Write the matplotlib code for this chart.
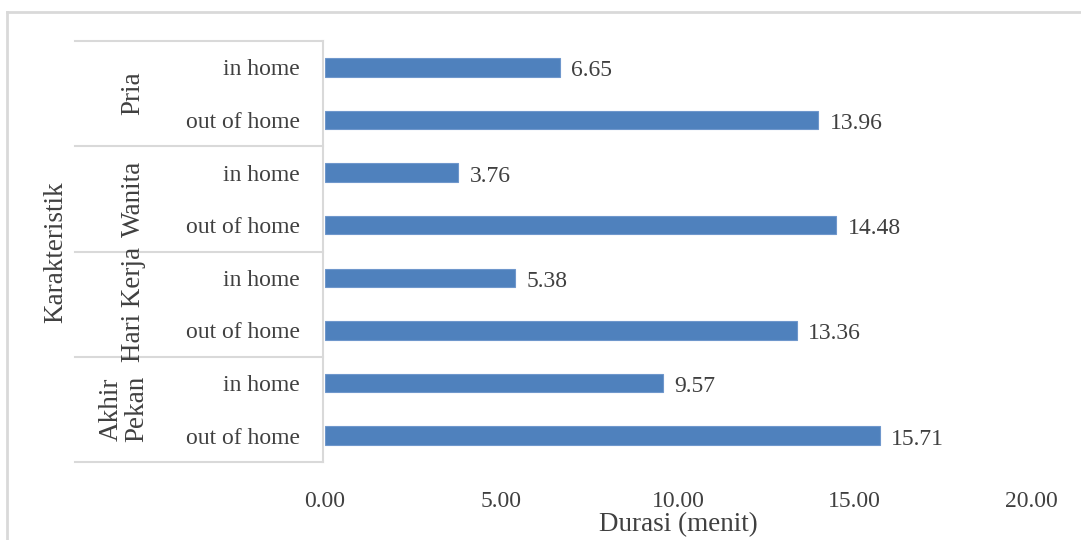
import matplotlib.pyplot as plt
from matplotlib.lines import Line2D

plt.rcParams['font.family'] = ['Liberation Serif', 'DejaVu Serif']

# data
groups = ['Pria', 'Wanita', 'Hari Kerja', 'Akhir\nPekan']
kinds = ['in home', 'out of home']
values = [6.65, 13.96, 3.76, 14.48, 5.38, 13.36, 9.57, 15.71]
xticks = [0, 5, 10, 15, 20]

W, H = 1081, 540
fig = plt.figure(figsize=(W / 100, H / 100), dpi=100)

# pixel helpers
def fx(px):
    return px / W

def fy(py):
    return 1 - py / H

ax_l, ax_r, ax_t, ax_b = 325, 1031, 41, 462
ax = fig.add_axes([fx(ax_l), fy(ax_b), fx(ax_r - ax_l), fy(ax_t) - fy(ax_b)])

text_col = '#404040'
line_col = '#D9D9D9'

labels = [k for g in groups for k in kinds]
ypos = list(range(len(values)))
ax.barh(ypos, values, height=0.35, color='#4F81BD', edgecolor='#6F97CC', linewidth=0.8)

for y, v in zip(ypos, values):
    ax.text(v + 0.33, y + 0.02, f'{v:.2f}', va='center_baseline', ha='left', fontsize=17,
            color=text_col)

ax.set_xlim(0, 20)
ax.set_ylim(len(values) - 0.5, -0.5)
ax.set_xticks(xticks)
ax.set_xticklabels([f'{t:.2f}' for t in xticks])
ax.set_yticks(ypos)
ax.set_yticklabels(labels)
ax.tick_params(axis='x', length=0, pad=21, labelsize=17, labelcolor=text_col)
ax.tick_params(axis='y', length=0, pad=18, labelsize=17, labelcolor=text_col)
for s in ax.spines.values():
    s.set_visible(False)

# category table lines
for gy in [-0.5, 1.5, 3.5, 5.5, 7.5]:
    yy = ax.transData.transform((0, gy))[1]
    fig.add_artist(Line2D([fx(75), fx(323)], [yy / H, yy / H], color=line_col, lw=1.5))
fig.add_artist(Line2D([fx(323), fx(323)], [fy(ax_t), fy(ax_b)], color=line_col, lw=1.5))

# group labels
for i, g in enumerate(groups):
    cy = ax.transData.transform((0, 2 * i + 0.5))[1] / H
    cx = 124 if '\n' in g else 133
    fig.text(fx(cx), cy, g, rotation=90, ha='center', va='center', fontsize=19.5,
             color=text_col, linespacing=1.0, multialignment='center')

fig.text(fx(56), fy(252), 'Karakteristik', rotation=90, ha='center', va='center',
         fontsize=19.5, color=text_col)
fig.text(fx(678), fy(525), 'Durasi (menit)', ha='center', va='center',
         fontsize=19.5, color=text_col)

# outer chart border
fig.add_artist(Line2D([fx(7), fx(7)], [fy(12), 0], color=line_col, lw=2))
fig.add_artist(Line2D([fx(7), 1], [fy(12), fy(12)], color=line_col, lw=2))

fig.savefig('out.png', dpi=100)
